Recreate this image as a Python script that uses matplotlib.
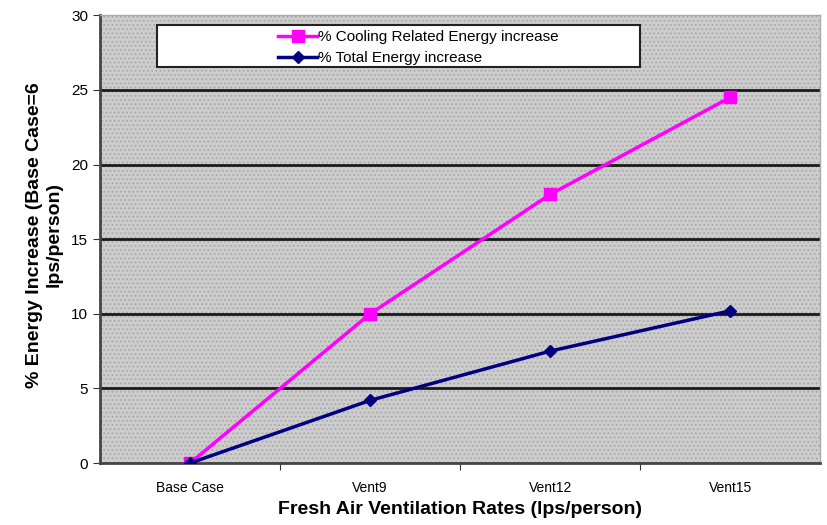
import matplotlib
matplotlib.use("Agg")
import matplotlib.pyplot as plt
from matplotlib.patches import Rectangle

categories = ["Base Case", "Vent9", "Vent12", "Vent15"]
cooling = [0, 10, 18, 24.5]
total = [0, 4.2, 7.5, 10.2]
yticks = [0, 5, 10, 15, 20, 25, 30]

plt.rcParams['font.family'] = ['Liberation Sans', 'DejaVu Sans']
plt.rcParams['hatch.linewidth'] = 0.8

fig = plt.figure(figsize=(8.27, 5.25), dpi=100)
ax = fig.add_axes([0.121, 0.118, 0.871, 0.853])
ax.set_facecolor('#cdcdcd')
ax.add_patch(Rectangle((0, 0), 1, 1, transform=ax.transAxes, facecolor='none',
                       edgecolor='#a9a9a9', hatch='....', linewidth=0, zorder=0))

x = list(range(len(categories)))
for v in yticks[1:-1]:
    ax.axhline(v, color='#1a1a1a', linewidth=2.0, zorder=1)

ax.plot(x, cooling, color='#ff00ff', marker='s', markersize=9, linewidth=2.5,
        label='% Cooling Related Energy increase', zorder=3)
ax.plot(x, total, color='#000080', marker='D', markersize=6, linewidth=2.5,
        label='% Total Energy increase', zorder=4)

ax.set_xlim(-0.5, 3.5)
ax.set_ylim(0, 30)
ax.set_xticks([0.5, 1.5, 2.5], minor=False)
ax.set_xticklabels([])
ax.set_xticks(x, minor=True)
ax.set_xticklabels(categories, minor=True, fontsize=10)
ax.tick_params(axis='x', which='minor', length=0, pad=13)
ax.tick_params(axis='x', which='major', length=5, color='#333333', direction='out')
ax.set_yticks(yticks)
ax.set_yticklabels([str(v) for v in yticks], fontsize=11)
ax.tick_params(axis='y', length=5, color='#333333')

for s in ['left', 'bottom']:
    ax.spines[s].set_color('#444444')
    ax.spines[s].set_linewidth(2)
for s in ['top', 'right']:
    ax.spines[s].set_color('#aaaaaa')
    ax.spines[s].set_linewidth(1)

ax.set_xlabel('Fresh Air Ventilation Rates (lps/person)', fontsize=14, fontweight='bold', labelpad=4)
ax.set_ylabel('% Energy Increase (Base Case=6\nlps/person)', fontsize=14, fontweight='bold',
              linespacing=1.2)
ax.yaxis.set_label_coords(-0.052, 0.51)

# legend box
ax.add_patch(Rectangle((0.079, 0.884), 0.671, 0.094, transform=ax.transAxes,
                       facecolor='white', edgecolor='#222222', linewidth=1.5, zorder=5))
leg = ax.legend(loc='center left', bbox_to_anchor=(0.237, 0.928), frameon=False,
                fontsize=11, handlelength=2.5, handletextpad=0.1, labelspacing=0.45,
                borderpad=0)
leg.set_zorder(6)

fig.savefig('out.png', dpi=100)
